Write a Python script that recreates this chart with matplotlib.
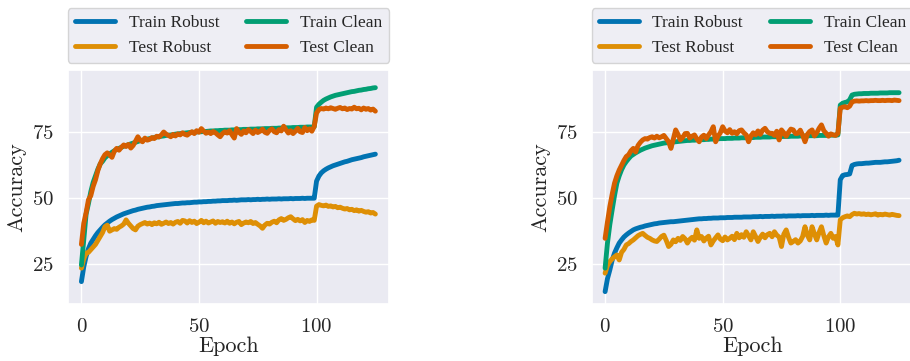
import numpy as np
import matplotlib
matplotlib.use("Agg")
import matplotlib.pyplot as plt
import seaborn as sns

# ---- training curves (accuracy in %, one value per epoch) ----
epochs = list(range(126))

left_train_robust = [
    18.4, 24.0, 28.0, 30.9, 33.0, 34.4, 35.8, 37.0, 38.0, 39.0,
    39.9, 40.6, 41.3, 41.9, 42.4, 42.9, 43.3, 43.7, 44.1, 44.4,
    44.7, 45.0, 45.3, 45.5, 45.8, 46.0, 46.2, 46.4, 46.6, 46.7,
    46.9, 47.0, 47.2, 47.3, 47.4, 47.5, 47.6, 47.7, 47.8, 47.9,
    48.0, 48.0, 48.1, 48.2, 48.2, 48.3, 48.3, 48.4, 48.5, 48.5,
    48.6, 48.6, 48.7, 48.7, 48.8, 48.8, 48.9, 48.9, 49.0, 49.0,
    49.1, 49.1, 49.1, 49.2, 49.2, 49.3, 49.2, 49.3, 49.4, 49.4,
    49.4, 49.5, 49.4, 49.5, 49.5, 49.6, 49.5, 49.6, 49.6, 49.7,
    49.6, 49.7, 49.7, 49.7, 49.8, 49.7, 49.8, 49.8, 49.8, 49.9,
    49.8, 49.9, 49.9, 49.9, 50.0, 49.9, 50.0, 50.0, 50.0, 50.0,
    56.5, 58.4, 59.6, 60.4, 61.0, 61.5, 61.9, 62.3, 62.6, 62.9,
    63.2, 63.5, 63.8, 64.0, 64.3, 64.6, 64.8, 65.0, 65.2, 65.4,
    65.7, 65.9, 66.1, 66.3, 66.5, 66.7,
]
left_test_robust = [
    23.5, 27.0, 29.2, 29.5, 30.5, 31.5, 32.5, 34.0, 35.5, 37.0,
    39.2, 39.8, 37.5, 38.0, 38.5, 38.2, 39.0, 39.5, 40.2, 41.8,
    40.5, 39.5, 38.5, 38.0, 39.4, 40.0, 40.4, 40.8, 40.2, 40.6,
    40.0, 40.7, 40.3, 40.9, 40.1, 40.5, 41.0, 40.4, 40.8, 40.2,
    40.9, 41.2, 40.5, 41.6, 41.4, 40.6, 41.5, 40.8, 41.3, 40.4,
    40.9, 41.6, 40.7, 41.3, 40.6, 41.0, 41.4, 40.5, 41.2, 40.8,
    41.1, 40.6, 41.3, 40.5, 41.0, 40.3, 40.9, 41.2, 40.0, 40.6,
    41.0, 40.7, 41.2, 40.4, 40.8, 40.1, 39.5, 38.6, 39.8, 40.5,
    40.2, 40.9, 41.3, 40.7, 41.8, 42.3, 41.6, 42.0, 42.6, 43.0,
    42.2, 41.5, 42.0, 41.4, 41.9, 40.8, 41.6, 41.2, 41.8, 41.6,
    47.0, 47.6, 47.3, 47.1, 47.4, 46.9, 47.1, 46.7, 46.9, 46.4,
    46.6, 46.2, 45.9, 46.1, 45.6, 45.8, 45.3, 45.6, 45.1, 45.4,
    45.0, 44.7, 44.9, 44.4, 44.6, 44.0,
]
left_train_clean = [
    24.7, 34.2, 44.0, 48.0, 52.5, 56.0, 58.5, 61.0, 63.0, 64.0,
    65.3, 66.1, 66.8, 67.4, 68.0, 68.5, 68.9, 69.3, 69.7, 70.0,
    70.3, 70.6, 70.9, 71.2, 71.5, 71.8, 72.0, 72.2, 72.4, 72.6,
    72.8, 73.0, 73.2, 73.3, 73.5, 73.6, 73.8, 73.9, 74.0, 74.1,
    74.3, 74.4, 74.5, 74.6, 74.7, 74.8, 74.9, 75.0, 75.0, 75.1,
    75.2, 75.2, 75.3, 75.3, 75.4, 75.5, 75.5, 75.6, 75.6, 75.7,
    75.7, 75.8, 75.8, 75.8, 75.9, 75.9, 76.0, 76.0, 76.0, 76.1,
    76.1, 76.1, 76.2, 76.2, 76.2, 76.3, 76.3, 76.3, 76.4, 76.4,
    76.4, 76.5, 76.5, 76.5, 76.6, 76.6, 76.6, 76.7, 76.7, 76.7,
    76.8, 76.8, 76.8, 76.9, 76.9, 76.9, 77.0, 77.0, 77.0, 77.1,
    84.5, 85.6, 86.4, 87.1, 87.6, 88.0, 88.4, 88.7, 89.0, 89.2,
    89.4, 89.6, 89.8, 90.0, 90.2, 90.4, 90.5, 90.7, 90.9, 91.0,
    91.2, 91.3, 91.5, 91.6, 91.8, 91.9,
]
left_test_clean = [
    32.5, 40.5, 44.5, 49.4, 51.0, 54.5, 57.0, 60.5, 63.0, 65.0,
    66.5, 67.2, 66.4, 65.5, 67.8, 68.9, 68.2, 69.3, 70.2, 69.6,
    70.4, 69.0, 70.0, 71.6, 73.3, 72.0, 71.4, 72.8, 72.0, 72.3,
    73.0, 72.6, 73.5, 73.2, 74.0, 75.1, 74.3, 73.8, 73.3, 74.2,
    73.6, 74.4, 74.0, 74.8, 74.2, 73.9, 74.6, 75.2, 74.5, 75.6,
    75.0, 76.4, 75.4, 74.6, 75.1, 74.5, 75.3, 74.8, 74.0, 73.3,
    74.5, 75.2, 74.7, 75.6, 74.1, 72.8, 76.4, 75.0, 74.2, 75.5,
    74.8, 76.0, 75.3, 74.5, 75.8, 74.9, 75.4, 76.2, 75.0, 74.6,
    75.7, 76.3, 75.2, 74.8, 76.0, 75.5, 77.3, 75.9, 74.7, 75.6,
    74.5, 75.4, 76.5, 75.2, 74.9, 76.8, 75.6, 76.3, 75.4, 77.2,
    82.3, 83.6, 84.0, 83.8, 84.2, 83.9, 84.3, 84.0, 83.7, 84.1,
    84.4, 83.9, 84.2, 83.6, 84.0, 83.8, 84.5, 83.9, 84.1, 83.5,
    84.2, 83.7, 84.0, 83.4, 83.8, 83.0,
]

right_train_robust = [
    14.6, 19.5, 22.8, 26.5, 29.2, 31.2, 33.0, 34.2, 35.3, 36.1,
    36.8, 37.4, 38.0, 38.4, 38.7, 39.0, 39.2, 39.5, 39.7, 39.9,
    40.1, 40.3, 40.4, 40.6, 40.7, 40.8, 40.9, 41.0, 41.1, 41.1,
    41.2, 41.3, 41.4, 41.5, 41.6, 41.7, 41.8, 41.9, 42.0, 42.1,
    42.2, 42.2, 42.3, 42.3, 42.4, 42.4, 42.5, 42.5, 42.5, 42.6,
    42.6, 42.6, 42.7, 42.7, 42.7, 42.8, 42.8, 42.8, 42.8, 42.9,
    42.9, 42.9, 42.9, 43.0, 43.0, 43.0, 43.1, 43.0, 43.1, 43.1,
    43.1, 43.2, 43.1, 43.2, 43.2, 43.2, 43.3, 43.2, 43.3, 43.3,
    43.3, 43.3, 43.4, 43.3, 43.4, 43.4, 43.4, 43.4, 43.5, 43.4,
    43.5, 43.5, 43.5, 43.5, 43.6, 43.5, 43.6, 43.6, 43.6, 43.6,
    57.0, 58.6, 58.9, 59.0, 59.2, 62.4, 62.8, 63.0, 63.1, 63.1,
    63.2, 63.3, 63.3, 63.4, 63.5, 63.6, 63.6, 63.6, 63.7, 63.8,
    63.8, 63.9, 64.0, 64.1, 64.2, 64.4,
]
right_test_robust = [
    21.6, 24.5, 26.0, 27.0, 27.8, 28.5, 26.6, 29.5, 30.6, 32.3,
    32.8, 33.6, 34.2, 35.0, 35.8, 36.3, 36.7, 35.9, 35.2, 34.8,
    34.2, 33.8, 33.6, 34.5, 35.5, 36.0, 34.0, 31.7, 32.5, 34.2,
    33.5, 34.8, 34.0, 35.5, 34.6, 33.0, 34.4, 35.2, 34.1, 38.0,
    34.8, 35.5, 33.8, 34.9, 35.6, 32.3, 33.8, 35.0, 36.1, 34.5,
    33.9, 35.3, 34.2, 34.8, 35.6, 34.3, 36.7, 35.0, 36.2, 35.2,
    37.3, 35.8, 34.2, 37.3, 35.5, 33.6, 35.2, 36.4, 35.0, 36.2,
    36.7, 35.4, 37.3, 36.0, 35.3, 31.7, 36.4, 38.0, 35.2, 33.0,
    33.6, 34.3, 33.0, 33.8, 35.5, 39.2, 36.0, 34.2, 39.2, 36.5,
    34.2, 37.0, 39.2, 35.8, 33.0, 35.4, 36.7, 34.8, 35.5, 32.3,
    41.8, 42.6, 43.0, 43.3, 43.0, 43.8, 44.3, 44.0, 44.2, 43.9,
    44.1, 43.8, 44.0, 43.7, 43.9, 44.1, 43.6, 43.9, 43.7, 44.0,
    43.8, 43.6, 43.9, 43.7, 43.5, 43.4,
]
right_train_clean = [
    23.5, 33.0, 40.0, 45.6, 51.0, 55.7, 58.5, 60.8, 62.6, 63.9,
    65.0, 66.0, 66.6, 67.2, 67.7, 68.2, 68.6, 69.0, 69.3, 69.6,
    69.9, 70.1, 70.3, 70.5, 70.7, 70.9, 71.0, 71.1, 71.2, 71.3,
    71.4, 71.5, 71.6, 71.7, 71.8, 71.9, 71.9, 72.0, 72.0, 72.1,
    72.1, 72.2, 72.2, 72.3, 72.3, 72.4, 72.4, 72.5, 72.5, 72.6,
    72.6, 72.6, 72.7, 72.7, 72.7, 72.8, 72.8, 72.8, 72.9, 72.9,
    72.9, 73.0, 73.0, 73.0, 73.1, 73.1, 73.1, 73.2, 73.2, 73.2,
    73.2, 73.3, 73.3, 73.3, 73.3, 73.4, 73.4, 73.4, 73.4, 73.5,
    73.5, 73.5, 73.5, 73.6, 73.6, 73.6, 73.6, 73.7, 73.7, 73.7,
    73.7, 73.8, 73.8, 73.8, 73.8, 73.9, 73.9, 73.9, 73.9, 74.0,
    85.3, 86.0, 86.3, 86.5, 87.3, 89.1, 89.4, 89.5, 89.6, 89.6,
    89.7, 89.7, 89.7, 89.8, 89.8, 89.8, 89.8, 89.9, 89.9, 89.9,
    89.9, 90.0, 90.0, 90.0, 90.0, 90.0,
]
right_test_clean = [
    34.8, 41.0, 46.8, 51.5, 55.7, 58.5, 60.7, 62.5, 64.3, 65.8,
    66.5, 68.0, 68.9, 67.5, 70.0, 71.2, 72.1, 72.6, 72.4, 73.0,
    73.3, 72.8, 73.5, 72.9, 73.3, 73.8, 72.6, 71.4, 68.9, 72.4,
    75.9, 74.2, 72.1, 73.0, 74.5, 74.6, 72.8, 73.5, 74.0, 72.5,
    71.4, 73.2, 73.9, 72.6, 74.0, 75.2, 77.1, 71.4, 73.5, 74.8,
    77.1, 75.5, 74.8, 76.0, 74.6, 75.2, 74.4, 75.6, 75.9, 74.8,
    74.0, 71.4, 73.6, 74.8, 74.0, 75.5, 74.2, 75.8, 76.5, 75.2,
    74.6, 74.6, 73.8, 75.4, 72.1, 75.9, 74.8, 73.5, 75.0, 76.2,
    75.9, 74.5, 74.6, 75.8, 73.9, 71.4, 74.2, 75.3, 75.9, 73.6,
    74.8, 76.5, 77.8, 75.6, 74.6, 73.5, 74.4, 74.0, 73.8, 74.6,
    84.1, 84.5, 84.7, 84.3, 84.9, 86.5, 86.8, 86.9, 86.8, 86.9,
    86.9, 87.0, 86.9, 87.0, 87.0, 87.1, 87.0, 87.0, 87.1, 87.0,
    87.1, 87.1, 87.0, 87.2, 87.1, 87.0,
]

series_labels = ["Train Robust", "Test Robust", "Train Clean", "Test Clean"]
x_ticks = [0, 50, 100]
y_ticks = [25, 50, 75]

# ---- style ----
sns.set_theme(style="darkgrid")
palette = sns.color_palette("colorblind")
colors = [palette[0], palette[1], palette[2], palette[3]]
plt.rcParams["font.family"] = ["cmr10", "DejaVu Serif"]
plt.rcParams["axes.formatter.use_mathtext"] = True

fig = plt.figure(figsize=(9.10, 3.61), dpi=100)
ax_w, ax_h = 321 / 910, 234.3 / 361
ax_b = (361 - 304.3) / 361
axes = [fig.add_axes([68 / 910, ax_b, ax_w, ax_h]),
        fig.add_axes([591.7 / 910, ax_b, ax_w, ax_h])]

panels = [
    [left_train_robust, left_test_robust, left_train_clean, left_test_clean],
    [right_train_robust, right_test_robust, right_train_clean, right_test_clean],
]

for ax, curves in zip(axes, panels):
    for y, c, lab in zip(curves, colors, series_labels):
        ax.plot(epochs, y, color=c, lw=3.5, label=lab, solid_capstyle="round")
    ax.set_xlim(-5.7, 130.8)
    ax.set_ylim(9.8, 98.6)
    ax.set_xticks(x_ticks)
    ax.set_yticks(y_ticks)
    ax.tick_params(labelsize=15, pad=4)
    ax.set_xlabel("Epoch", fontsize=16, labelpad=0)
    ax.set_ylabel("Accuracy", fontsize=16, labelpad=4)
    ax.legend(loc="lower left", bbox_to_anchor=(0, 1.03, 1, 0.2), mode="expand",
              ncol=2, borderaxespad=0, prop={"family": "Liberation Serif", "size": 12.5},
              handlelength=2.3, handletextpad=0.8, columnspacing=1.5, frameon=True)

fig.savefig("out.png", dpi=100)
